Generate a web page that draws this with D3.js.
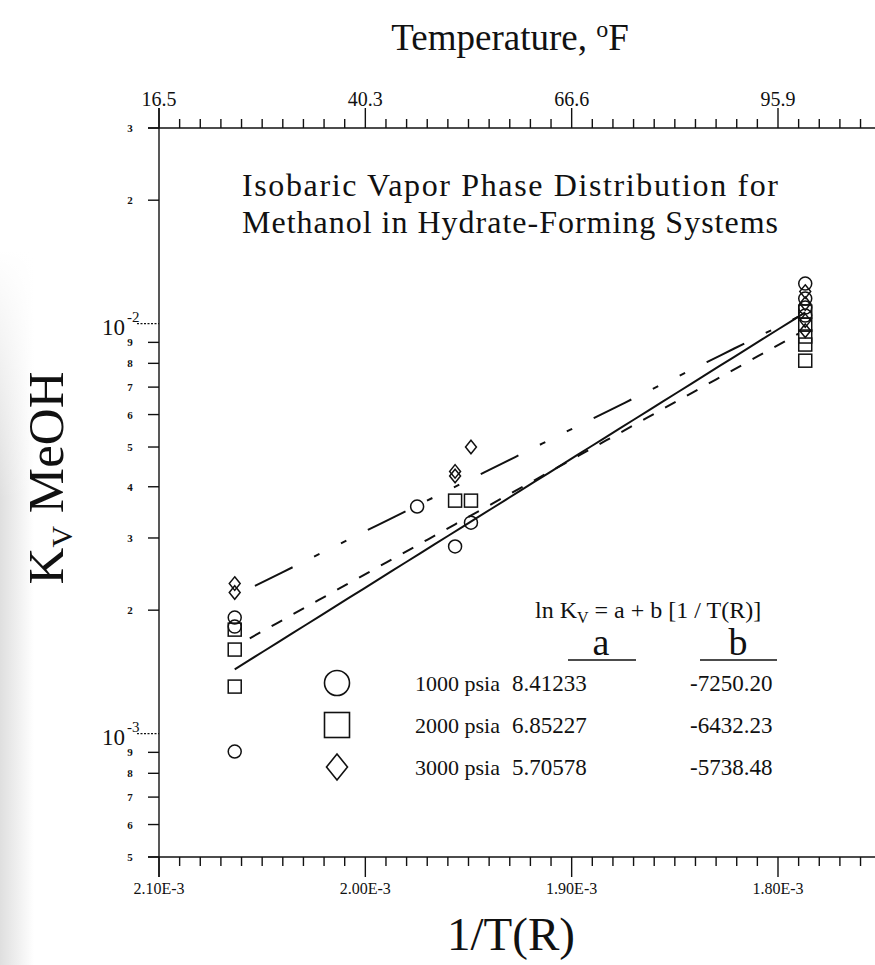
<!DOCTYPE html>
<html>
<head>
<meta charset="utf-8">
<script src="https://cdn.jsdelivr.net/npm/d3@7"></script>
<style>
  html, body { margin: 0; padding: 0; background: #fff; }
  svg { display: block; }
  text { font-family: "Liberation Serif", "Times New Roman", serif; fill: #111; }
</style>
</head>
<body>
<svg id="chart" width="875" height="965"></svg>
<script>
// Reciprocal absolute temperature (1/°R) tick values on the bottom axis
const xMajorTicks = [2.10e-3, 2.00e-3, 1.90e-3, 1.80e-3];
const xTickLabels = ["2.10E-3", "2.00E-3", "1.90E-3", "1.80E-3"];
// K_V tick values on the log axis
const yTicks = [3e-2, 2e-2, 1e-2, 9e-3, 8e-3, 7e-3, 6e-3, 5e-3, 4e-3, 3e-3, 2e-3, 1e-3, 9e-4, 8e-4, 7e-4, 6e-4, 5e-4];
const yTickLabels = ["3", "2", "10|-2", "9", "8", "7", "6", "5", "4", "3", "2", "10|-3", "9", "8", "7", "6", "5"];

// Pressure series and regression coefficients: ln Kv = a + b (1/T)
const seriesNames = ["1000 psia", "2000 psia", "3000 psia"];
const coefA = [8.41233, 6.85227, 5.70578];
const coefB = [-7250.20, -6432.23, -5738.48];
const symbols = ["circle", "square", "diamond"];
// 1/T span over which each fitted line is drawn
const fitStart = [2.0633e-3, 2.0560e-3, 2.0535e-3];
const fitEnd   = [1.7868e-3, 1.7900e-3, 1.7880e-3];

// Measured points, 1000 psia
const invT1000 = [2.0633e-3, 2.0633e-3, 2.0633e-3, 1.9749e-3, 1.9488e-3, 1.9565e-3, 1.7868e-3, 1.7868e-3, 1.7868e-3, 1.7868e-3];
const kv1000   = [1.919e-3, 1.824e-3, 0.904e-3, 3.58e-3, 3.27e-3, 2.86e-3, 12.52e-3, 11.51e-3, 10.94e-3, 10.46e-3];
// Measured points, 2000 psia
const invT2000 = [2.0633e-3, 2.0633e-3, 2.0633e-3, 1.9565e-3, 1.9488e-3, 1.7868e-3, 1.7868e-3, 1.7868e-3, 1.7868e-3, 1.7868e-3];
const kv2000   = [1.793e-3, 1.603e-3, 1.302e-3, 3.70e-3, 3.70e-3, 10.70e-3, 9.94e-3, 9.30e-3, 8.89e-3, 8.12e-3];
// Measured points, 3000 psia
const invT3000 = [2.0633e-3, 2.0633e-3, 1.9565e-3, 1.9565e-3, 1.9488e-3, 1.7868e-3, 1.7868e-3, 1.7868e-3, 1.7868e-3];
const kv3000   = [2.322e-3, 2.208e-3, 4.36e-3, 4.25e-3, 5.00e-3, 11.97e-3, 11.19e-3, 10.17e-3, 9.61e-3];

const svg = d3.select("#chart");

const plotLeft = 159, plotTop = 128, plotBottom = 857;
const x = d3.scaleLinear().domain([2.10e-3, 1.80e-3]).range([plotLeft, 778]);
const y = d3.scaleLog().domain([5e-4, 3e-2]).range([plotBottom, plotTop]);
const xEnd = 1.75e-3;
const rightEdge = x(xEnd);

// faint grey shading along the left margin
const defs = svg.append("defs");
const grad = defs.append("linearGradient").attr("id", "edge").attr("x1", 0).attr("x2", 1);
grad.append("stop").attr("offset", 0).attr("stop-color", "#d4d4d4");
grad.append("stop").attr("offset", 1).attr("stop-color", "#ffffff");
const gradV = defs.append("linearGradient").attr("id", "edgeV").attr("x1", 0).attr("x2", 0).attr("y1", 0).attr("y2", 1);
gradV.append("stop").attr("offset", 0).attr("stop-color", "#fff").attr("stop-opacity", 1);
gradV.append("stop").attr("offset", 0.35).attr("stop-color", "#fff").attr("stop-opacity", 0);
svg.append("rect").attr("x", 0).attr("y", 250).attr("width", 34).attr("height", 715).attr("fill", "url(#edge)").attr("opacity", 0.75);
svg.append("rect").attr("x", 0).attr("y", 250).attr("width", 34).attr("height", 715).attr("fill", "url(#edgeV)");

// ---- axes frame ----
const axisG = svg.append("g").attr("stroke", "#111").attr("stroke-width", 1.4);
axisG.append("line").attr("x1", plotLeft - 11).attr("x2", rightEdge).attr("y1", plotTop).attr("y2", plotTop);
axisG.append("line").attr("x1", plotLeft - 11).attr("x2", rightEdge).attr("y1", plotBottom).attr("y2", plotBottom);
axisG.append("line").attr("x1", plotLeft).attr("x2", plotLeft).attr("y1", plotTop - 20).attr("y2", plotBottom + 20);

// minor ticks every 0.01E-3 on top and bottom axes
const minorX = d3.range(0, 36).map(i => 2.10e-3 - i * 1e-5);
const isMajor = v => xMajorTicks.some(m => Math.abs(m - v) < 1e-9);
minorX.filter(v => !isMajor(v)).forEach(v => {
  axisG.append("line").attr("x1", x(v)).attr("x2", x(v)).attr("y1", plotBottom).attr("y2", plotBottom + 9);
  axisG.append("line").attr("x1", x(v)).attr("x2", x(v)).attr("y1", plotTop).attr("y2", plotTop - 9);
});
xMajorTicks.forEach(v => {
  axisG.append("line").attr("x1", x(v)).attr("x2", x(v)).attr("y1", plotBottom).attr("y2", plotBottom + 20);
  axisG.append("line").attr("x1", x(v)).attr("x2", x(v)).attr("y1", plotTop).attr("y2", plotTop - 20);
});

// bottom tick labels
svg.append("g").selectAll("text").data(xMajorTicks).join("text")
  .attr("x", d => x(d)).attr("y", 894)
  .attr("text-anchor", "middle").attr("font-size", 16)
  .text((d, i) => xTickLabels[i]);

// top tick labels in °F, derived from 1/T (°R)
svg.append("g").selectAll("text").data(xMajorTicks).join("text")
  .attr("x", d => x(d)).attr("y", 106)
  .attr("text-anchor", "middle").attr("font-size", 20)
  .text(d => (1 / d - 459.67).toFixed(1));

// y ticks and labels
yTicks.forEach((v, i) => {
  const yy = y(v);
  const lab = yTickLabels[i];
  if (lab.includes("|")) {
    const [base, exp] = lab.split("|");
    axisG.append("line").attr("x1", 137).attr("x2", plotLeft).attr("y1", yy).attr("y2", yy)
      .attr("stroke-dasharray", "2,1.5").attr("stroke-width", 1.2);
    svg.append("text").attr("x", 125).attr("y", yy + 11).attr("text-anchor", "end").attr("font-size", 23).text(base);
    svg.append("text").attr("x", 127).attr("y", yy - 2).attr("font-size", 15).text(exp);
  } else {
    axisG.append("line").attr("x1", 148).attr("x2", plotLeft).attr("y1", yy).attr("y2", yy);
    svg.append("text").attr("x", 130).attr("y", yy + 4).attr("text-anchor", "middle")
      .attr("font-size", 11).attr("font-weight", "bold").text(lab);
  }
});

// axis titles
const tTitle = svg.append("text").attr("x", 510).attr("y", 50).attr("text-anchor", "middle").attr("font-size", 37);
tTitle.append("tspan").text("Temperature, ");
tTitle.append("tspan").attr("font-size", 24).attr("dy", -13).text("o");
tTitle.append("tspan").attr("dy", 13).text("F");

svg.append("text").attr("x", 511).attr("y", 950).attr("text-anchor", "middle").attr("font-size", 47).text("1/T(R)");

const yTitle = svg.append("text").attr("transform", "translate(63,478) rotate(-90)")
  .attr("text-anchor", "middle").attr("font-size", 51);
yTitle.append("tspan").text("K");
yTitle.append("tspan").attr("font-size", 30).attr("dy", 9).text("V");
yTitle.append("tspan").attr("dy", -9).text(" MeOH");

// chart title
svg.append("text").attr("x", 510).attr("y", 196).attr("text-anchor", "middle").attr("font-size", 32)
  .attr("textLength", 536).attr("lengthAdjust", "spacing")
  .text("Isobaric Vapor Phase Distribution for");
svg.append("text").attr("x", 510).attr("y", 233).attr("text-anchor", "middle").attr("font-size", 32)
  .attr("textLength", 536).attr("lengthAdjust", "spacing")
  .text("Methanol in Hydrate-Forming Systems");

// ---- regression lines ----
const dashes = [null, "12,13", "42,24,6,24,6,24"];
const lineGen = d3.line().x(d => x(d[0])).y(d => y(d[1]));
seriesNames.forEach((s, i) => {
  const pts = d3.range(0, 41).map(k => {
    const t = fitStart[i] + (fitEnd[i] - fitStart[i]) * k / 40;
    return [t, Math.exp(coefA[i] + coefB[i] * t)];
  });
  svg.append("path").attr("d", lineGen(pts)).attr("fill", "none").attr("stroke", "#111")
    .attr("stroke-width", 2).attr("stroke-dasharray", dashes[i]);
});

// ---- markers ----
function marker(g, type, cx, cy, s) {
  if (type === "circle") {
    g.append("circle").attr("cx", cx).attr("cy", cy).attr("r", s / 2);
  } else if (type === "square") {
    g.append("rect").attr("x", cx - s / 2).attr("y", cy - s / 2).attr("width", s).attr("height", s);
  } else {
    const w = s * 0.42, h = s * 0.52;
    g.append("path").attr("d", `M${cx},${cy - h}L${cx + w},${cy}L${cx},${cy + h}L${cx - w},${cy}Z`);
  }
}
const markG = svg.append("g").attr("fill", "none").attr("stroke", "#111").attr("stroke-width", 1.5);
const pointSets = [[invT1000, kv1000], [invT2000, kv2000], [invT3000, kv3000]];
pointSets.forEach(([xs, ks], i) => {
  xs.forEach((t, j) => marker(markG, symbols[i], x(t), y(ks[j]), 13));
});

// ---- equation and coefficient legend ----
const eq = svg.append("text").attr("x", 535).attr("y", 618).attr("font-size", 24);
eq.append("tspan").text("ln K");
eq.append("tspan").attr("font-size", 16).attr("dy", 5).text("V");
eq.append("tspan").attr("dy", -5).text(" = a + b [1 / T(R)]");

svg.append("text").attr("x", 601).attr("y", 655).attr("text-anchor", "middle").attr("font-size", 38).text("a");
svg.append("text").attr("x", 738).attr("y", 655).attr("text-anchor", "middle").attr("font-size", 38).text("b");
axisG.append("line").attr("x1", 568).attr("x2", 636).attr("y1", 660).attr("y2", 660);
axisG.append("line").attr("x1", 700).attr("x2", 777).attr("y1", 660).attr("y2", 660);

const legG = svg.append("g").attr("fill", "none").attr("stroke", "#111").attr("stroke-width", 1.6);
seriesNames.forEach((s, i) => {
  const yy = 683 + i * 42;
  marker(legG, symbols[i], 337, yy, 25);
  svg.append("text").attr("x", 415).attr("y", yy + 8).attr("font-size", 22).text(s);
  svg.append("text").attr("x", 512).attr("y", yy + 8).attr("font-size", 23).text(coefA[i].toFixed(5));
  svg.append("text").attr("x", 690).attr("y", yy + 8).attr("font-size", 23).text(coefB[i].toFixed(2));
});
</script>
</body>
</html>
